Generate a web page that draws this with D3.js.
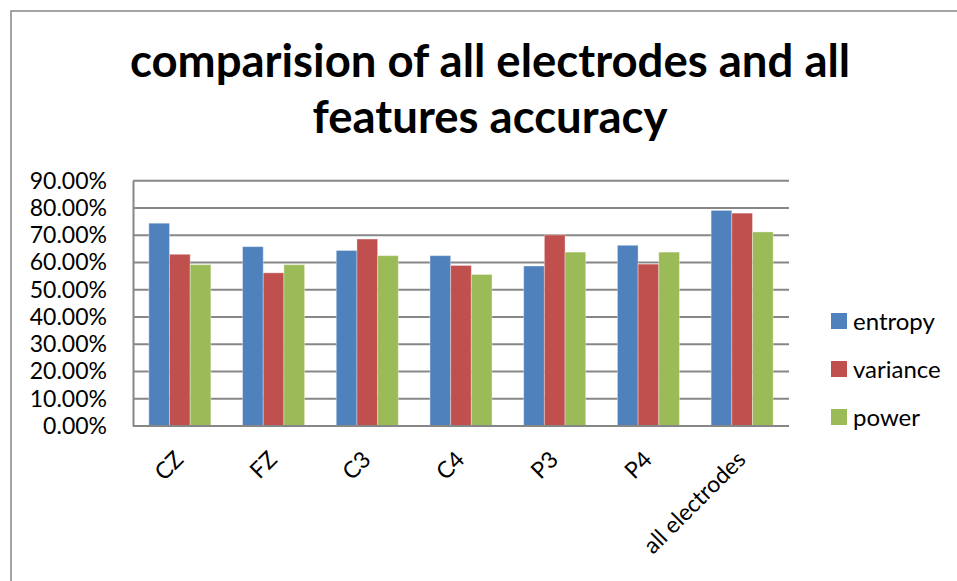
<!DOCTYPE html>
<html><head><meta charset="utf-8">
<script src="https://cdn.jsdelivr.net/npm/d3@7"></script>
<style>body{margin:0;background:#fff;} svg{display:block;}</style>
</head><body>
<script>
const categories = ["CZ","FZ","C3","C4","P3","P4","all electrodes"];
const seriesNames = ["entropy","variance","power"];
const entropy  = [0.744,0.658,0.644,0.625,0.587,0.663,0.791];
const variance = [0.630,0.562,0.686,0.589,0.701,0.594,0.781];
const power    = [0.592,0.592,0.625,0.556,0.638,0.638,0.712];
const yTicks = [0,0.1,0.2,0.3,0.4,0.5,0.6,0.7,0.8,0.9];
const colors = ["#4F81BD","#C0504D","#9BBB59"];
const titleLines = ["comparision of all electrodes and all","features accuracy"];

const W=957,H=581;
const svg=d3.select("body").append("svg").attr("width",W).attr("height",H);
svg.append("rect").attr("x",11).attr("y",11).attr("width",1200).attr("height",1200)
  .attr("fill","#fff").attr("stroke","#878787").attr("stroke-width",1.5);

const plot={left:133,right:789,top:180.7,bottom:426};
const x=d3.scaleBand().domain(categories).range([plot.left,plot.right]).paddingInner(0.338).paddingOuter(0.169);
const xs=d3.scaleBand().domain(seriesNames).range([0,x.bandwidth()]).padding(0);
const y=d3.scaleLinear().domain([0,0.9]).range([plot.bottom,plot.top]);
const font="Lato, 'Open Sans', sans-serif";

// gridlines
svg.append("g").selectAll("line").data(yTicks).join("line")
  .attr("x1",plot.left).attr("x2",plot.right)
  .attr("y1",d=>y(d)).attr("y2",d=>y(d))
  .attr("stroke","#878787").attr("stroke-width",2);

// y axis
const yAxis=d3.axisLeft(y).tickValues(yTicks).tickFormat(d3.format(".2%")).tickSize(0).tickPadding(26);
const ga=svg.append("g").attr("transform",`translate(${plot.left},0)`).call(yAxis);
ga.select(".domain").attr("stroke","#878787").attr("stroke-width",2);
ga.selectAll("text").attr("font-family",font).attr("font-size",23).attr("fill","#000");

// bars
const data=categories.map((c,i)=>({c,vals:[entropy[i],variance[i],power[i]]}));
const groups=svg.append("g").selectAll("g").data(data).join("g")
  .attr("transform",d=>`translate(${x(d.c)},0)`);
groups.selectAll("rect").data(d=>d.vals.map((v,j)=>({v,s:seriesNames[j],j})))
  .join("rect")
  .attr("x",d=>xs(d.s)).attr("width",xs.bandwidth())
  .attr("y",d=>y(d.v)).attr("height",d=>y(0)-y(d.v))
  .attr("fill",d=>colors[d.j]).attr("stroke","rgba(255,255,255,0.35)").attr("stroke-width",1);

// x axis baseline
svg.append("line").attr("x1",plot.left).attr("x2",plot.right).attr("y1",y(0)).attr("y2",y(0))
  .attr("stroke","#878787").attr("stroke-width",2);

// x labels
svg.append("g").selectAll("text").data(categories).join("text")
  .attr("transform",d=>`translate(${x(d)+x.bandwidth()/2+5},${plot.bottom+35}) rotate(-45)`)
  .attr("text-anchor","end").attr("font-family",font).attr("font-size",23).attr("fill","#000")
  .text(d=>d);

// title
svg.append("g").selectAll("text").data(titleLines).join("text")
  .attr("x",490).attr("y",(d,i)=>77+i*56)
  .attr("text-anchor","middle").attr("font-family",font).attr("font-weight","bold")
  .attr("font-size",45.5).attr("fill","#000").text(d=>d);

// legend
const lg=svg.append("g").selectAll("g").data(seriesNames).join("g")
  .attr("transform",(d,i)=>`translate(831,${321+i*48})`);
lg.append("rect").attr("x",0).attr("y",-8).attr("width",16).attr("height",16).attr("fill",(d,i)=>colors[i]);
lg.append("text").attr("x",22).attr("y",8.5).attr("font-family",font).attr("font-size",24).attr("fill","#000").text(d=>d);
</script>
</body></html>
